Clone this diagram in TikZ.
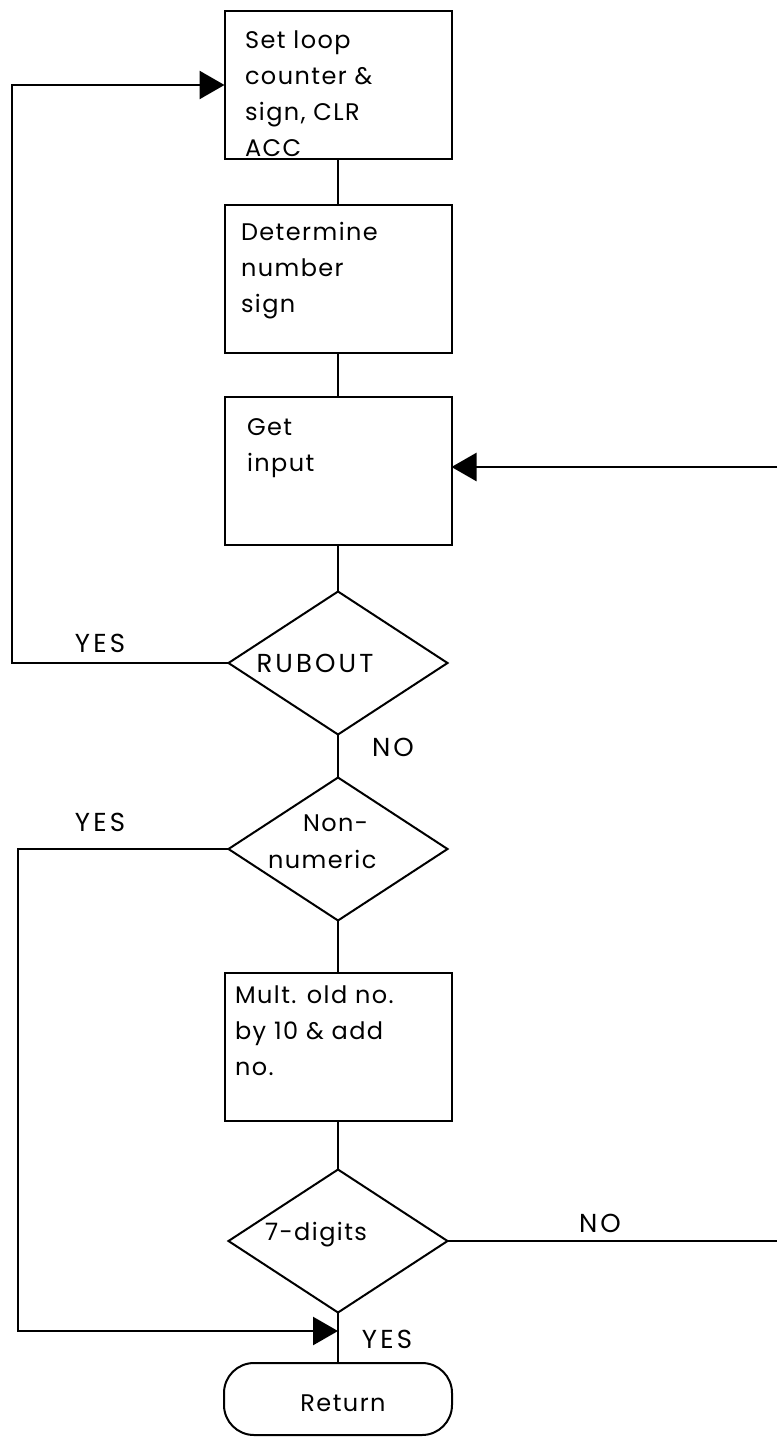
\documentclass[tikz,border=0pt]{standalone}
\usepackage{fontspec}
\setmainfont{Poppins}[LetterSpace=6]
\usetikzlibrary{arrows.meta,shapes.geometric}
\tikzset{
  every node/.style={inner sep=0pt, outer sep=0pt},
  stepbox/.style={draw, line width=2pt, rectangle, minimum width=227pt, minimum height=148pt},
  decide/.style={draw, line width=2pt, diamond, minimum width=219pt, minimum height=143pt},
  terminal/.style={draw, line width=2pt, rectangle, rounded corners=30pt, minimum width=228pt, minimum height=72pt},
  txt/.style={font=\fontsize{24}{36}\selectfont, align=left},
  lbl/.style={font=\fontsize{24}{36}\selectfont},
  caps/.style={font=\fontsize{26}{36}\selectfont\addfontfeature{LetterSpace=12}},
  link/.style={line width=2pt},
  flow/.style={line width=2.6pt, -{Triangle[length=25pt,width=28pt]}},
}
\begin{document}
\begin{tikzpicture}[x=1pt, y=-1pt]
\useasboundingbox (0,0) rectangle (777,1437);

% process boxes
\node[stepbox] (init) at (338,85) {};
\node[stepbox] (sign) at (338,278.5) {};
\node[stepbox] (input) at (338,471) {};
\node[stepbox] (mult) at (338,1047) {};

% decisions and exit
\node[decide] (rub) at (338,663) {};
\node[decide] (num) at (338,849) {};
\node[decide] (dig) at (338,1241) {};
\node[terminal] (ret) at (338,1399) {};

% box texts
\node[txt, anchor=north west] (tinit) at (245,31) {Set loop\\counter \&\\sign, CLR\\ACC};
\node[txt, anchor=north west] (tsign) at (241,222) {Determine\\number\\sign};
\node[txt, anchor=north west] (tinput) at (247,419) {Get\\input};
\node[txt, anchor=north west] (tmult) at (235,986) {Mult. old no.\\by 10 \& add\\no.};
\node[caps] (trub) at (315,663) {RUBOUT};
\node[lbl, anchor=west] (tnumA) at (303,823) {Non-};
\node[lbl, anchor=west] (tnumB) at (268,859) {numeric};
\node[lbl] (tdig) at (316,1235) {7-digits};
\node[lbl] (tret) at (343,1403) {Return};

% branch labels
\node[caps] (yes1) at (100,643) {YES};
\node[caps] (no1) at (393,747) {NO};
\node[caps] (yes2) at (100,822) {YES};
\node[caps] (no2) at (600,1223) {NO};
\node[caps] (yes3) at (387,1339) {YES};

% junction points
\coordinate (j) at (338,1331);
\coordinate (offA) at (777,467);
\coordinate (offB) at (777,1241);
\coordinate (lA) at (12,663);
\coordinate (lB) at (18,849);

% main spine
\draw[link] (init.south) -- (sign.north);
\draw[link] (sign.south) -- (input.north);
\draw[link] (input.south) -- (rub.north);
\draw[link] (rub.south) -- (num.north);
\draw[link] (num.south) -- (mult.north);
\draw[link] (mult.south) -- (dig.north);
\draw[link] (dig.south) -- (ret.north);

% loops
\draw[flow] (rub.west) -- (lA) |- (init.west);
\draw[flow] (num.west) -- (lB) |- (j);
\draw[link, line width=2.6pt] (dig.east) -- (offB);
\draw[flow] (offA) -- (input.east |- offA);
\end{tikzpicture}
\end{document}
